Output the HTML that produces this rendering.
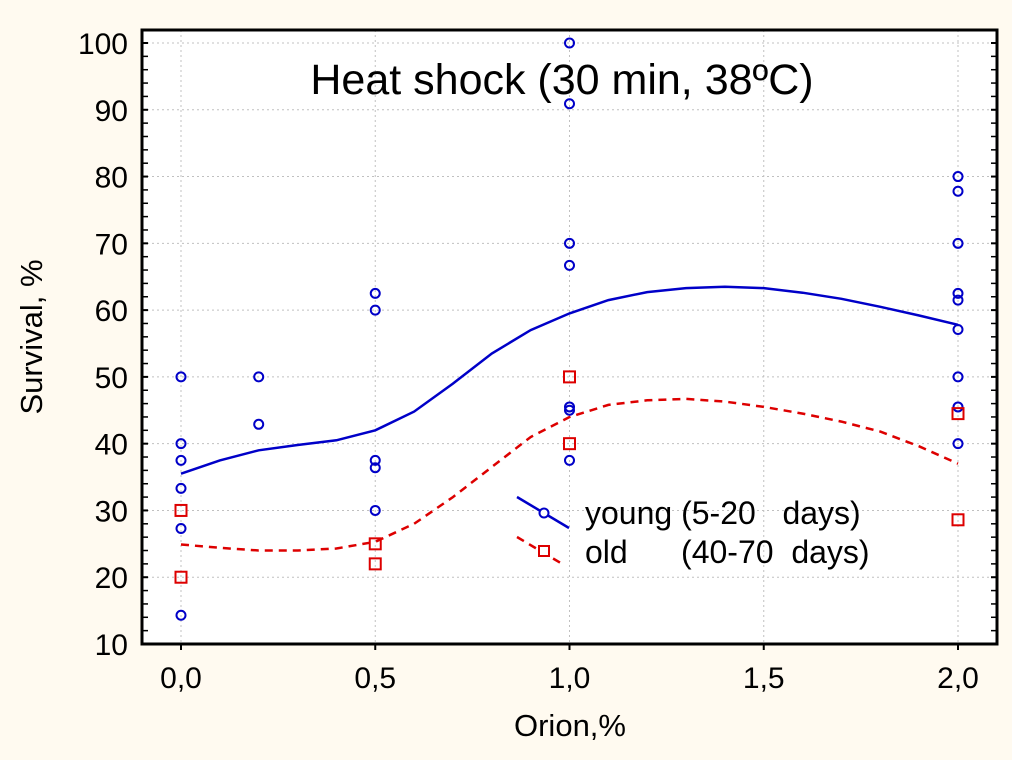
<!DOCTYPE html>
<html><head><meta charset="utf-8"><style>
html,body{margin:0;padding:0;background:#fffaf0;}
svg{display:block;font-family:"Liberation Sans",sans-serif;}
</style></head><body>
<svg id="chart" width="1012" height="760" xmlns="http://www.w3.org/2000/svg">
<rect x="0" y="0" width="1012" height="760" fill="#fffaf0"/>
<rect x="142" y="30" width="855" height="614" fill="#ffffff"/>
<g id="grid"></g>
<g id="ticks"></g>
<g id="curves"></g>
<g id="points"></g>
<rect x="142" y="30" width="855" height="614" fill="none" stroke="#000" stroke-width="3"/>
<text x="562" y="94" font-size="43" text-anchor="middle">Heat shock (30 min, 38ºC)</text>
<text x="0" y="0" font-size="31" text-anchor="middle" transform="translate(42,337) rotate(-90)">Survival, %</text>
<text x="570" y="736" font-size="31" text-anchor="middle">Orion,%</text>
<g>
<line x1="517" y1="497" x2="569" y2="528" stroke="#0000c8" stroke-width="2.5"/>
<circle cx="544" cy="513" r="4.5" fill="#fff" stroke="#0000c8" stroke-width="2"/>
<text x="585" y="524" font-size="32">young (5-20&#160;&#160; days)</text>
<line x1="517" y1="537" x2="564" y2="565" stroke="#dd0000" stroke-width="2.5" stroke-dasharray="8,6"/>
<rect x="539" y="546" width="10" height="10" fill="#fff" stroke="#dd0000" stroke-width="2"/>
<text x="585" y="563" font-size="32">old&#160;&#160;&#160;&#160;&#160; (40-70&#160; days)</text>
</g>
</svg>
<script>
const yTicks=[10,20,30,40,50,60,70,80,90,100];
const xTicks=[0,0.5,1.0,1.5,2.0];
const xTickLabels=["0,0","0,5","1,0","1,5","2,0"];
const youngX=[0,0,0,0,0,0,0.2,0.2,0.5,0.5,0.5,0.5,0.5,1,1,1,1,1,1,1,2,2,2,2,2,2,2,2,2];
const youngY=[50,40,37.5,33.3,27.3,14.3,50,42.9,62.5,60,37.5,36.4,30,100,90.9,70,66.7,45.5,45,37.5,80,77.8,70,62.5,61.5,57.1,50,45.5,40];
const oldX=[0,0,0.5,0.5,1,1,2,2];
const oldY=[30,20,25,22,50,40,44.5,28.6];
const youngFitX=[0,0.1,0.2,0.3,0.4,0.5,0.6,0.7,0.8,0.9,1.0,1.1,1.2,1.3,1.4,1.5,1.6,1.7,1.8,1.9,2.0];
const youngFitY=[35.5,37.5,39,39.8,40.5,42,44.8,49,53.5,57,59.5,61.5,62.7,63.3,63.5,63.3,62.6,61.7,60.5,59.2,57.8];
const oldFitX=[0,0.1,0.2,0.3,0.4,0.5,0.6,0.7,0.8,0.9,1.0,1.1,1.2,1.3,1.4,1.5,1.6,1.7,1.8,1.9,2.0];
const oldFitY=[24.9,24.4,24,24,24.3,25.3,28,32,36.5,41,44,45.8,46.5,46.7,46.3,45.5,44.5,43.3,41.8,39.6,37];
const NS="http://www.w3.org/2000/svg";
const sx=v=>181+v*(958-181)/2;
const sy=v=>644-(v-10)*(644-43)/90;
function mk(tag,attrs,parent){const e=document.createElementNS(NS,tag);for(const k in attrs)e.setAttribute(k,attrs[k]);parent.appendChild(e);return e;}
const grid=document.getElementById('grid'),ticks=document.getElementById('ticks');
yTicks.forEach(t=>{
  if(t>10){const l=mk('line',{x1:142,x2:997,y1:sy(t),y2:sy(t),stroke:'#c0c0c0','stroke-dasharray':'2,3'},grid);
  
  }
  const tx=mk('text',{x:128,y:sy(t)+11,'font-size':30,'text-anchor':'end'},ticks);tx.textContent=t;
  
  
});
for(let v=10;v<=100;v+=2){
  const a=mk('line',{x1:142,x2:148,y1:sy(v),y2:sy(v),stroke:'#000','stroke-width':v%10===0?2:1.5},ticks);
  
  
  const b=mk('line',{x1:991,x2:997,y1:sy(v),y2:sy(v),stroke:'#000','stroke-width':v%10===0?2:1.5},ticks);
  
  
}
xTicks.forEach((t,i)=>{
  const l=mk('line',{x1:sx(t),x2:sx(t),y1:30,y2:644,stroke:'#c0c0c0','stroke-dasharray':'2,3'},grid);
  
  
  const tk=mk('line',{x1:sx(t),x2:sx(t),y1:644,y2:650,stroke:'#000','stroke-width':2},ticks);
  
  
  const tx=mk('text',{x:sx(t),y:688,'font-size':30,'text-anchor':'middle'},ticks);tx.textContent=xTickLabels[i];
  
  
});
const curves=document.getElementById('curves');
function path(xs,ys){return xs.map((x,i)=>(i?'L':'M')+sx(x).toFixed(1)+','+sy(ys[i]).toFixed(1)).join(' ');}
const yc=mk('path',{d:path(youngFitX,youngFitY),fill:'none',stroke:'#0000c8','stroke-width':2.5},curves);


const oc=mk('path',{d:path(oldFitX,oldFitY),fill:'none',stroke:'#dd0000','stroke-width':2.5,'stroke-dasharray':'8,6'},curves);


const pts=document.getElementById('points');
youngX.forEach((x,i)=>{
  const c=mk('circle',{cx:sx(x),cy:sy(youngY[i]),r:4.5,fill:'none',stroke:'#0000c8','stroke-width':2},pts);
  
  
});
oldX.forEach((x,i)=>{
  const r=mk('rect',{x:sx(x)-5.5,y:sy(oldY[i])-5.5,width:11,height:11,fill:'none',stroke:'#dd0000','stroke-width':2},pts);
  
  
});
</script>
</body></html>
